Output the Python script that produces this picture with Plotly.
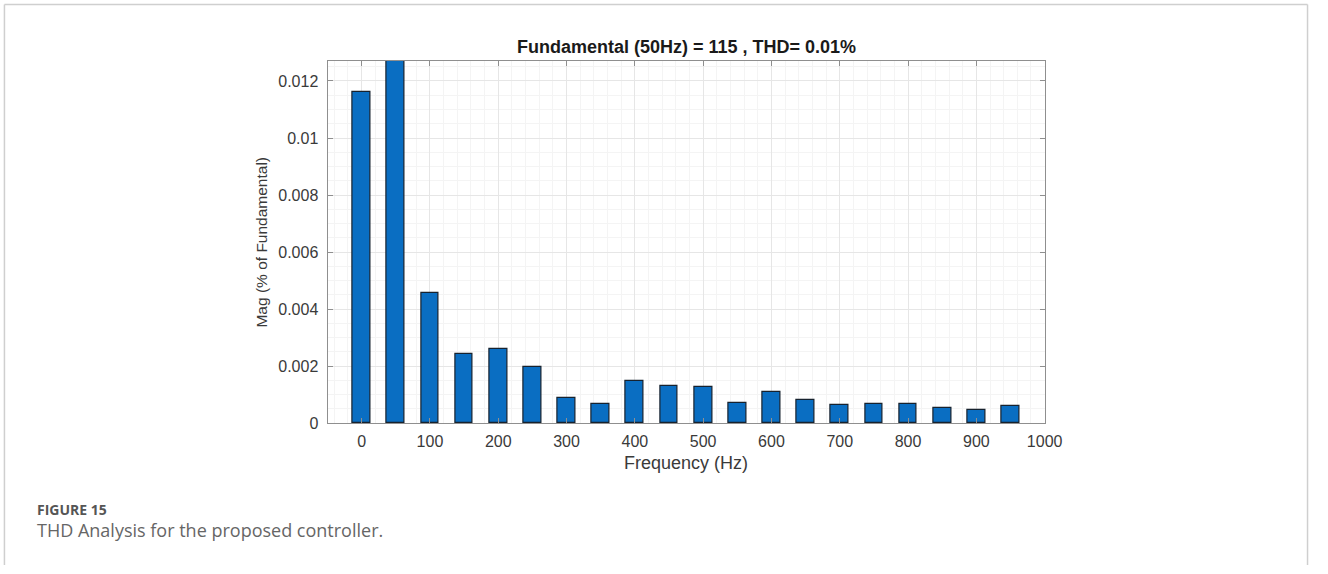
import plotly.graph_objects as go

# Data
freq_hz = [0, 50, 100, 150, 200, 250, 300, 350, 400, 450, 500,
           550, 600, 650, 700, 750, 800, 850, 900, 950]
mag_pct = [0.01161, 100.0, 0.00456, 0.00241, 0.00261, 0.00198, 0.00089, 0.00069,
           0.00149, 0.00131, 0.00127, 0.00071, 0.00108, 0.00082, 0.00063,
           0.00067, 0.00069, 0.00055, 0.00048, 0.00061]
x_ticks = [0, 100, 200, 300, 400, 500, 600, 700, 800, 900, 1000]
y_ticks = [0, 0.002, 0.004, 0.006, 0.008, 0.01, 0.012]
y_tick_text = ["0", "0.002", "0.004", "0.006", "0.008", "0.01", "0.012"]

title_text = "Fundamental (50Hz) = 115 , THD= 0.01%"
x_title = "Frequency (Hz)"
y_title = "Mag (% of Fundamental)"
caption_head = "FIGURE 15"
caption_body = "THD Analysis for the proposed controller."

W, H = 1328, 574
FONT = "Liberation Sans, Arial, sans-serif"

fig = go.Figure()
fig.add_trace(go.Bar(
    x=freq_hz, y=mag_pct, width=26,
    marker=dict(color="#0A6EC2", line=dict(color="#17222e", width=1.2)),
    showlegend=False,
))

px_l, px_r, px_t, px_b = 332, 1059, 62, 430

axis_common = dict(
    showline=True, linecolor="#8f8f8f", linewidth=1, mirror="ticks",
    ticks="inside", ticklen=5, tickcolor="#8f8f8f",
    showgrid=True, gridcolor="#e6e6e6", gridwidth=1,
    zeroline=False,
    tickfont=dict(family=FONT, size=16, color="#3a3a3a"),
)

fig.update_layout(
    width=W, height=H,
    margin=dict(l=0, r=0, t=0, b=0),
    paper_bgcolor="white", plot_bgcolor="white",
    bargap=0,
    xaxis=dict(
        domain=[px_l / W, px_r / W],
        range=[-50, 1000], tickmode="array", tickvals=x_ticks,
        minor=dict(dtick=20, showgrid=True, gridcolor="#f4f4f4", ticks=""),
        ticklabelstandoff=4,
        **axis_common,
    ),
    yaxis=dict(
        domain=[(H - px_b) / H, (H - px_t) / H],
        range=[0, 0.0127], tickmode="array", tickvals=y_ticks, ticktext=y_tick_text,
        minor=dict(dtick=0.0005, showgrid=True, gridcolor="#f4f4f4", ticks=""),
        ticklabelstandoff=5,
        **axis_common,
    ),
)

# Title and axis titles
fig.add_annotation(text="<b>" + title_text + "</b>", xref="paper", yref="paper",
                   x=695.5 / W, y=(H - 48) / H, showarrow=False,
                   font=dict(family=FONT, size=18, color="#1a1a1a"),
                   xanchor="center", yanchor="middle")
fig.add_annotation(text=x_title, xref="paper", yref="paper",
                   x=695 / W, y=(H - 470) / H, showarrow=False,
                   font=dict(family=FONT, size=18, color="#3a3a3a"),
                   xanchor="center", yanchor="middle")
fig.add_annotation(text=y_title, xref="paper", yref="paper",
                   x=265 / W, y=(H - 246) / H, showarrow=False, textangle=-90,
                   font=dict(family=FONT, size=15.5, color="#3a3a3a"),
                   xanchor="center", yanchor="middle")

# Caption
fig.add_annotation(text="<b>" + caption_head + "</b>", xref="paper", yref="paper",
                   x=35 / W, y=(H - 518) / H, showarrow=False,
                   font=dict(family="Open Sans, sans-serif", size=14, color="#555555"),
                   xanchor="left", yanchor="middle")
fig.add_annotation(text=caption_body, xref="paper", yref="paper",
                   x=35 / W, y=(H - 538) / H, showarrow=False,
                   font=dict(family="Open Sans, sans-serif", size=18, color="#666666"),
                   xanchor="left", yanchor="middle")

# Card border (top, left, right)
border = dict(color="#cfcfcf", width=1.5)
fig.add_shape(type="line", xref="paper", yref="paper",
              x0=4.5 / W, x1=1325.5 / W, y0=(H - 4.5) / H, y1=(H - 4.5) / H, line=border)
fig.add_shape(type="line", xref="paper", yref="paper",
              x0=4.5 / W, x1=4.5 / W, y0=0, y1=(H - 4.5) / H, line=border)
fig.add_shape(type="line", xref="paper", yref="paper",
              x0=1325.5 / W, x1=1325.5 / W, y0=0, y1=(H - 4.5) / H, line=border)

fig.write_html("out.html")
